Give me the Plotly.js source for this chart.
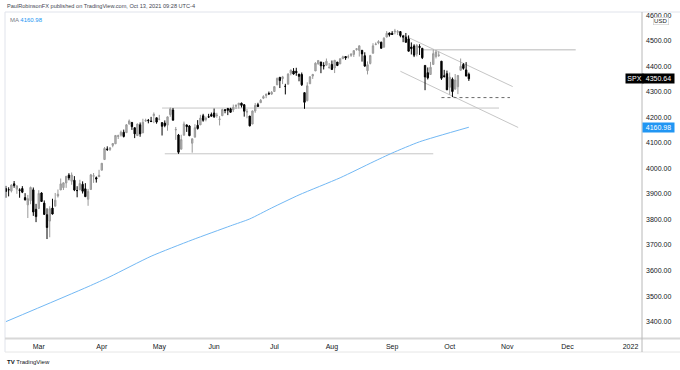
<!DOCTYPE html>
<html>
<head>
<meta charset="utf-8">
<script src="https://cdn.plot.ly/plotly-3.0.1.min.js"></script>
<style>html,body{margin:0;padding:0;background:#fff;}#chart{width:680px;height:370px;}</style>
</head>
<body>
<div id="chart"></div>
<script>
// ---------------- DATA ----------------
const firstDay = '2021-02-10';
const marketHolidays = ['2021-02-15','2021-04-02','2021-05-31','2021-07-05','2021-09-06'];

const openPx = [
3920.78,3916.40,3911.65,3939.61,3918.50,3915.86,3921.16,3885.55,3857.07,3873.71,3915.80,3839.66,
3842.51,3903.64,3863.99,3818.53,3793.58,3844.39,3851.93,3891.99,3915.54,3924.52,3942.96,3973.59,3949.57,3953.50,3913.14,3916.48,3937.60,3919.93,3879.34,3917.12,3969.31,3963.34,3967.25,
3992.78,4034.44,4075.57,4074.29,4089.95,4096.11,4124.71,4130.10,4141.58,4139.76,4174.14,4179.80,4159.18,4128.42,4170.46,4138.78,4185.03,4188.25,4185.14,4206.14,4198.10,
4191.98,4179.04,4177.06,4169.14,4210.34,4228.29,4150.34,4130.55,4074.99,4129.58,4169.92,4165.94,4098.45,4121.97,4168.61,4170.16,4205.94,4191.59,4201.94,4210.77,
4216.52,4206.82,4191.43,4206.05,4229.34,4233.81,4232.99,4228.56,4242.90,4248.31,4255.28,4248.87,4220.37,4204.78,4173.40,4224.61,4249.27,4256.97,4274.45,4284.90,4293.21,4290.65,
4300.73,4326.60,4356.46,4351.01,4321.07,4329.38,4372.41,4381.07,4380.11,4369.02,4367.43,4296.40,4265.11,4331.13,4361.27,4381.20,4409.58,4416.38,4402.95,4403.59,4395.12,
4406.86,4392.74,4415.95,4408.86,4429.07,4437.77,4435.79,4442.18,4446.08,4464.84,4461.65,4462.12,4440.94,4382.44,4410.56,4450.29,4484.40,4490.45,4493.75,4474.10,4513.76,4529.75,
4528.80,4534.48,4532.42,4535.38,4518.09,4513.02,4506.92,4474.81,4479.33,4447.49,4477.09,4469.74,4402.95,4374.45,4367.43,4406.75,4438.04,4442.12,4419.54,4362.41,4370.67,
4317.16,4348.84,4309.87,4319.57,4383.73,4406.51,4385.44,4368.31];

const highPx = [
3931.50,3925.99,3937.23,3950.43,3933.61,3921.98,3930.41,3902.92,3895.98,3928.65,3925.02,3861.08,
3914.50,3906.41,3874.47,3843.67,3851.69,3881.06,3903.76,3917.35,3960.27,3944.99,3970.08,3981.04,3983.87,3969.62,3930.12,3955.31,3949.13,3942.08,3919.54,3978.19,3981.83,3968.01,3994.41,
4020.63,4083.42,4086.23,4083.13,4098.19,4129.48,4131.76,4148.00,4151.69,4173.49,4191.31,4180.81,4159.18,4175.02,4179.57,4194.17,4194.19,4193.35,4201.53,4218.78,4198.10,
4209.39,4179.04,4187.72,4202.70,4238.04,4236.39,4162.04,4134.73,4131.58,4183.13,4171.92,4169.15,4116.93,4172.80,4188.72,4209.52,4213.42,4202.61,4213.38,4218.36,
4234.12,4217.37,4204.39,4233.45,4232.34,4236.74,4237.09,4249.74,4248.38,4255.59,4257.16,4251.89,4232.29,4204.78,4226.24,4255.84,4256.60,4271.28,4286.12,4292.14,4300.52,4302.43,
4320.66,4355.43,4356.46,4361.88,4330.88,4371.60,4386.68,4392.37,4393.68,4369.02,4375.09,4296.40,4336.84,4359.70,4369.87,4415.18,4422.73,4416.38,4415.47,4429.97,4412.25,
4422.18,4423.79,4416.17,4429.76,4440.82,4439.39,4445.21,4449.44,4461.77,4468.37,4480.26,4462.12,4454.32,4418.61,4444.35,4489.88,4492.81,4501.71,4495.90,4513.33,4537.36,4531.39,
4537.11,4545.85,4541.45,4535.38,4521.79,4529.90,4520.47,4492.99,4485.68,4486.87,4485.87,4471.52,4402.95,4394.87,4416.75,4465.40,4463.12,4457.30,4419.54,4385.57,4382.55,
4375.19,4355.51,4369.23,4365.57,4429.97,4412.02,4415.88,4374.89];

const lowPx = [
3884.94,3890.39,3905.78,3923.85,3900.43,3885.03,3903.07,3874.71,3805.59,3859.60,3814.04,3789.54,
3842.51,3868.57,3818.86,3723.34,3730.19,3819.25,3851.93,3885.73,3915.54,3915.21,3923.54,3953.44,3935.74,3910.86,3886.75,3914.16,3901.57,3889.07,3853.50,3917.12,3943.25,3944.35,3966.98,
3992.78,4034.44,4068.14,4068.31,4082.54,4095.51,4114.82,4124.43,4120.87,4139.76,4170.75,4150.47,4118.38,4126.35,4123.69,4138.78,4182.36,4176.22,4181.78,4176.81,4174.85,
4188.03,4128.59,4160.94,4147.33,4201.64,4188.13,4111.53,4056.88,4074.99,4129.58,4142.69,4125.99,4061.41,4121.97,4151.72,4170.16,4182.52,4184.11,4197.78,4203.57,
4197.59,4198.27,4167.93,4206.05,4215.66,4208.41,4218.74,4220.34,4232.25,4234.07,4238.35,4202.45,4196.05,4164.40,4173.40,4217.27,4241.43,4256.97,4271.16,4274.67,4286.96,4287.96,
4300.73,4326.60,4314.37,4329.79,4289.37,4329.38,4364.03,4366.92,4362.36,4340.70,4322.53,4233.13,4262.05,4331.13,4350.06,4381.20,4405.45,4372.51,4387.01,4403.59,4389.65,
4384.81,4373.00,4400.23,4408.86,4429.07,4424.74,4430.03,4436.42,4435.96,4460.82,4437.66,4417.83,4397.59,4367.73,4406.80,4450.29,4482.28,4485.66,4468.99,4474.10,4513.76,4515.80,
4522.02,4524.66,4521.94,4513.00,4493.95,4492.07,4457.66,4445.70,4435.46,4438.37,4443.80,4427.76,4305.91,4347.96,4367.43,4406.75,4430.27,4436.19,4346.33,4355.08,4306.24,
4288.52,4278.94,4309.87,4290.49,4383.73,4386.22,4360.59,4342.09];

const closePx = [
3909.88,3916.38,3934.83,3932.59,3931.33,3913.97,3906.71,3876.50,3881.37,3925.43,3829.34,3811.15,
3901.82,3870.29,3819.72,3768.47,3841.94,3821.35,3875.44,3898.81,3939.34,3943.34,3968.94,3962.71,3974.12,3915.46,3913.10,3940.59,3910.52,3889.14,3909.52,3974.54,3971.09,3958.55,3972.89,
4019.87,4077.91,4073.94,4079.95,4097.17,4128.80,4127.99,4141.59,4124.66,4170.42,4185.47,4163.26,4134.94,4173.42,4134.98,4180.17,4187.62,4186.72,4183.18,4211.47,4181.17,
4192.66,4164.66,4167.59,4201.62,4232.60,4188.43,4152.10,4063.04,4112.50,4173.85,4163.29,4127.83,4115.68,4159.12,4155.86,4197.05,4188.13,4195.99,4200.88,4204.11,
4202.04,4208.12,4192.85,4229.89,4226.52,4227.26,4219.55,4239.18,4247.44,4255.15,4246.59,4223.70,4221.86,4166.45,4224.79,4246.44,4241.84,4266.49,4280.70,4290.61,4291.80,4297.50,
4319.94,4352.34,4343.54,4358.13,4320.82,4369.55,4384.63,4369.21,4374.30,4360.03,4327.16,4258.49,4323.06,4358.69,4367.48,4411.79,4422.30,4401.46,4400.64,4419.15,4395.26,
4387.16,4423.15,4402.66,4429.10,4436.52,4432.35,4436.75,4447.70,4460.83,4468.00,4479.71,4448.08,4400.27,4405.80,4441.67,4479.53,4486.23,4496.19,4470.00,4509.37,4528.79,4522.68,
4524.09,4536.95,4535.43,4520.03,4514.07,4493.28,4458.58,4468.73,4443.05,4480.70,4473.75,4432.99,4357.73,4354.19,4395.64,4448.98,4455.48,4443.11,4352.63,4359.46,4307.54,
4357.04,4300.46,4345.72,4363.55,4399.76,4391.34,4361.19,4350.64];

// 200-day moving average
const maDates  = ['2021-02-10','2021-03-25','2021-04-07','2021-04-28','2021-05-19','2021-06-09','2021-06-18','2021-06-30','2021-07-15','2021-08-05','2021-08-23','2021-09-01','2021-09-16','2021-10-12'];
const maValues = [3400, 3537, 3576, 3656, 3720, 3775, 3802, 3845, 3896, 3963, 4025, 4060, 4104, 4160.98];

// month tick labels
const tickMonths = ['2021-03','2021-04','2021-05','2021-06','2021-07','2021-08','2021-09','2021-10','2021-11','2021-12','2022-01'];
const tickLabels = ['Mar','Apr','May','Jun','Jul','Aug','Sep','Oct','Nov','Dec','2022'];

// drawn trendlines / levels: [startDate, startPrice, endDate, endPrice]
const trendUpper   = ['2021-09-08', 4522, '2021-11-03', 4320];
const trendLower   = ['2021-09-07', 4380, '2021-11-05', 4160];
const levelSepHigh = ['2021-09-17', 4464, '2021-12-06', 4464];
const levelOctLow  = ['2021-09-28', 4277, '2021-11-02', 4277];
const levelMayHigh = ['2021-05-04', 4236, '2021-10-27', 4236];
const levelMayLow  = ['2021-05-05', 4057, '2021-09-23', 4057];

const symbol = 'SPX';
const maLabel = 'MA';
const headerText = 'PaulRobinsonFX published on TradingView.com, Oct 13, 2021 09:28 UTC-4';

// ---------------- BUILD ----------------
function iso(d){return d.toISOString().slice(0,10);}
const days = [];
{
  const d = new Date(firstDay + 'T00:00:00Z');
  const end = new Date('2022-01-31T00:00:00Z');
  while (d <= end) {
    const wd = d.getUTCDay();
    const s = iso(d);
    if (wd !== 0 && wd !== 6 && marketHolidays.indexOf(s) < 0) days.push(s);
    d.setUTCDate(d.getUTCDate() + 1);
  }
}
const idx = {};
days.forEach((s,i)=>{idx[s]=i;});
const xs = openPx.map((_,i)=>i);

const tickVals = tickMonths.map(m => days.findIndex(s => s.startsWith(m)));

const GRAYLINE = '#c6c6c6';
function seg(a, color, dash, width){
  return {type:'line', xref:'x', yref:'y', x0: idx[a[0]], y0: a[1], x1: idx[a[2]], y1: a[3],
          line:{color: color, width: width || 1, dash: dash || 'solid'}, layer:'below'};
}

const FONT = 'Liberation Sans, Arial, sans-serif';
const lastClose = closePx[closePx.length-1];
const lastMA = maValues[maValues.length-1];

const traces = [
  {
    type:'scatter', mode:'lines',
    x: maDates.map(s=>idx[s]), y: maValues,
    line:{color:'#72b8f4', width:1, shape:'spline', smoothing:0.6},
    hoverinfo:'skip', showlegend:false
  },
  {
    type:'candlestick', x: xs, open: openPx, high: highPx, low: lowPx, close: closePx,
    increasing:{line:{color:'#9a9a9a', width:1}, fillcolor:'#b4b4b4'},
    decreasing:{line:{color:'#000000', width:1}, fillcolor:'#000000'},
    whiskerwidth: 0, hoverinfo:'skip', showlegend:false
  }
];

// paper helpers: plot area x 5..642, y 12..338
const px = v => (v - 5) / 637;
const py = v => (338 - v) / 326;

const layout = {
  width:680, height:370,
  margin:{l:5, r:38, t:12, b:32, pad:0},
  paper_bgcolor:'#ffffff', plot_bgcolor:'#ffffff',
  font:{family:FONT, size:7, color:'#131722'},
  showlegend:false,
  xaxis:{
    type:'linear', range:[-0.33, 232.2], rangeslider:{visible:false},
    tickvals: tickVals, ticktext: tickLabels, tickmode:'array',
    showgrid:false, zeroline:false, showline:false, ticks:'', ticklabelstandoff:3,
    tickfont:{family:FONT, size:7, color:'#131722'}, fixedrange:true
  },
  yaxis:{
    side:'right', range:[3336, 4612], dtick:100, tick0:0, tickformat:'.2f',
    showgrid:false, zeroline:false, showline:false, ticks:'', ticklabelstandoff:3,
    tickfont:{family:FONT, size:7, color:'#131722'}, fixedrange:true
  },
  shapes:[
    seg(trendUpper, GRAYLINE),
    seg(trendLower, GRAYLINE),
    seg(levelSepHigh, '#d0d0d0', 'solid', 1.5),
    seg(levelOctLow, '#6a6a6a', 'dot', 1),
    seg(levelMayHigh, GRAYLINE),
    seg(levelMayLow, GRAYLINE),
    // frame
    {type:'line', xref:'paper', yref:'paper', x0:px(5), x1:px(680), y0:py(12), y1:py(12), line:{color:'#e0e3eb', width:1}},
    {type:'line', xref:'paper', yref:'paper', x0:px(5), x1:px(5), y0:py(12), y1:py(352), line:{color:'#e0e3eb', width:1}},
    {type:'line', xref:'paper', yref:'paper', x0:px(5), x1:px(680), y0:py(338.5), y1:py(338.5), line:{color:'#d8d8d8', width:2}},
    {type:'line', xref:'paper', yref:'paper', x0:px(5), x1:px(680), y0:py(352), y1:py(352), line:{color:'#e6e6e6', width:1}},
    {type:'line', xref:'paper', yref:'paper', x0:px(642), x1:px(642), y0:py(12), y1:py(352), line:{color:'#b8b8b8', width:1}}
  ],
  annotations:[
    {xref:'paper', yref:'paper', x:px(5), y:py(6), xanchor:'left', yanchor:'middle', showarrow:false,
     text: headerText, font:{family:FONT, size:5.6, color:'#434651'}},
    {xref:'paper', yref:'paper', x:px(8), y:py(20.5), xanchor:'left', yanchor:'middle', showarrow:false,
     text:'<span style="color:#787b86">'+maLabel+'</span> <span style="color:#2196f3">'+lastMA.toFixed(2)+'</span>',
     font:{family:FONT, size:6}},
    {xref:'paper', yref:'paper', x:px(652.5), y:py(20.7), xanchor:'left', yanchor:'middle', showarrow:false,
     text:'USD', font:{family:FONT, size:6, color:'#131722'}, bgcolor:'#ffffff', bordercolor:'#c8c8c8', borderwidth:0.6, borderpad:0.5},
    {xref:'paper', yref:'y', x:px(624.5), y:lastClose, xanchor:'left', yanchor:'middle', showarrow:false,
     text:symbol, font:{family:FONT, size:7, color:'#ffffff'}, bgcolor:'#000000', borderpad:1, width:15},
    {xref:'paper', yref:'y', x:px(642), y:lastClose, xanchor:'left', yanchor:'middle', showarrow:false,
     text:lastClose.toFixed(2), font:{family:FONT, size:7, color:'#ffffff'}, bgcolor:'#000000', borderpad:1, width:29},
    {xref:'paper', yref:'y', x:px(642), y:lastMA, xanchor:'left', yanchor:'middle', showarrow:false,
     text:lastMA.toFixed(2), font:{family:FONT, size:7, color:'#ffffff'}, bgcolor:'#2196f3', borderpad:1, width:29},
    {xref:'paper', yref:'paper', x:px(5), y:py(362), xanchor:'left', yanchor:'middle', showarrow:false,
     text:'<b>TV</b> TradingView', font:{family:FONT, size:6, color:'#131722'}}
  ]
};

Plotly.newPlot('chart', traces, layout, {staticPlot:true, displayModeBar:false});
</script>
</body>
</html>
